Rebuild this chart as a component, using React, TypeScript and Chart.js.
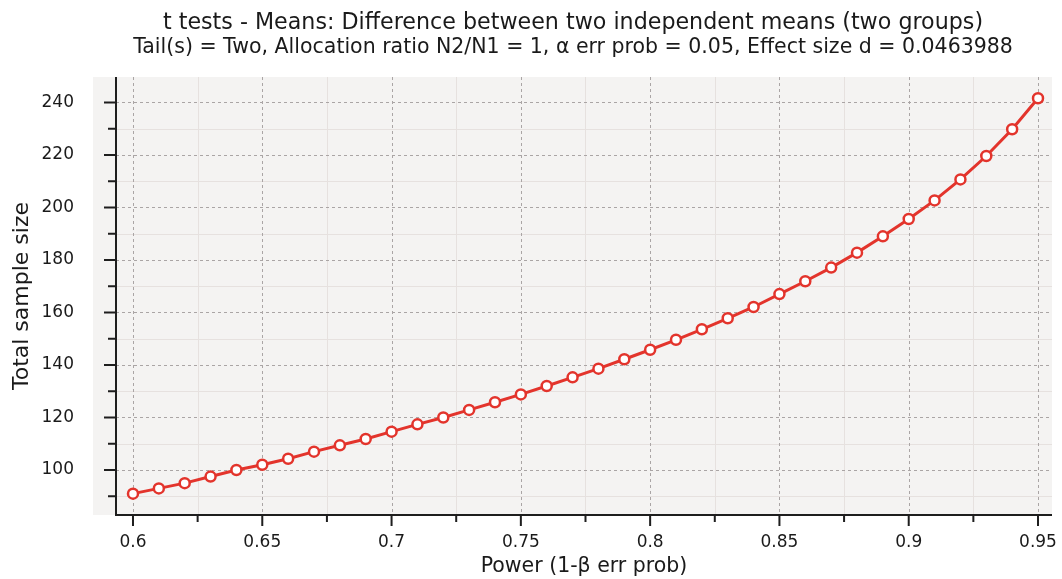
import React, { useEffect, useRef } from "react";
import { Chart, registerables } from "chart.js";

Chart.register(...registerables);

const titleLine1 = "t tests - Means: Difference between two independent means (two groups)";
const titleLine2 = "Tail(s) = Two, Allocation ratio N2/N1 = 1, α err prob = 0.05, Effect size d = 0.0463988";
const xAxisTitle = "Power (1-β err prob)";
const yAxisTitle = "Total sample size";

const powerValues = [
  0.6, 0.61, 0.62, 0.63, 0.64, 0.65, 0.66, 0.67, 0.68, 0.69,
  0.7, 0.71, 0.72, 0.73, 0.74, 0.75, 0.76, 0.77, 0.78, 0.79,
  0.8, 0.81, 0.82, 0.83, 0.84, 0.85, 0.86, 0.87, 0.88, 0.89,
  0.9, 0.91, 0.92, 0.93, 0.94, 0.95,
];
const sampleSizes = [
  91, 93, 95, 97.5, 100, 102, 104.3, 107, 109.4, 111.8,
  114.6, 117.4, 120, 122.9, 125.8, 128.8, 132, 135.3, 138.6, 142.2,
  145.8, 149.6, 153.6, 157.8, 162.1, 167, 171.9, 177.1, 182.8, 189,
  195.6, 202.7, 210.7, 219.6, 229.8, 241.6,
];

const xMajorTicks = [0.6, 0.65, 0.7, 0.75, 0.8, 0.85, 0.9, 0.95];
const xMinorTicks = [0.625, 0.675, 0.725, 0.775, 0.825, 0.875, 0.925];
const yMajorTicks = [100, 120, 140, 160, 180, 200, 220, 240];
const yMinorTicks = [90, 110, 130, 150, 170, 190, 210, 230];
const xLabels = ["0.6", "0.65", "0.7", "0.75", "0.8", "0.85", "0.9", "0.95"];
const yLabels = ["100", "120", "140", "160", "180", "200", "220", "240"];

const FONT = "'DejaVu Sans', sans-serif";

const backgroundGridPlugin = {
  id: "bgGrid",
  beforeDatasetsDraw(chart: any) {
    const { ctx, chartArea, scales } = chart;
    const { left, right, top, bottom } = chartArea;
    const xs = scales.x;
    const ys = scales.y;
    ctx.save();
    ctx.fillStyle = "#f4f3f2";
    ctx.fillRect(left - 23, top, right - left + 23, bottom - top);

    // minor grid
    ctx.strokeStyle = "#e6e1df";
    ctx.lineWidth = 1;
    ctx.setLineDash([]);
    ctx.beginPath();
    xMinorTicks.forEach((v) => {
      const p = Math.round(xs.getPixelForValue(v)) + 0.5;
      ctx.moveTo(p, top);
      ctx.lineTo(p, bottom);
    });
    yMinorTicks.forEach((v) => {
      const p = Math.round(ys.getPixelForValue(v)) + 0.5;
      ctx.moveTo(left, p);
      ctx.lineTo(right, p);
    });
    ctx.stroke();

    // major dashed grid
    ctx.strokeStyle = "#aaa5a5";
    ctx.setLineDash([3, 3]);
    ctx.beginPath();
    xMajorTicks.forEach((v) => {
      const p = Math.round(xs.getPixelForValue(v)) + 0.5;
      ctx.moveTo(p, top);
      ctx.lineTo(p, bottom);
    });
    yMajorTicks.forEach((v) => {
      const p = Math.round(ys.getPixelForValue(v)) + 0.5;
      ctx.moveTo(left, p);
      ctx.lineTo(right, p);
    });
    ctx.stroke();
    ctx.setLineDash([]);

    // axes
    ctx.strokeStyle = "#1e1e1e";
    ctx.lineWidth = 2;
    ctx.beginPath();
    ctx.moveTo(left, top);
    ctx.lineTo(left, bottom);
    ctx.lineTo(right, bottom);
    ctx.stroke();

    // ticks
    ctx.beginPath();
    xMajorTicks.forEach((v) => {
      const p = xs.getPixelForValue(v);
      ctx.moveTo(p, bottom);
      ctx.lineTo(p, bottom + 11);
    });
    xMinorTicks.forEach((v) => {
      const p = xs.getPixelForValue(v);
      ctx.moveTo(p, bottom);
      ctx.lineTo(p, bottom + 7);
    });
    yMajorTicks.forEach((v) => {
      const p = ys.getPixelForValue(v);
      ctx.moveTo(left, p);
      ctx.lineTo(left - 12, p);
    });
    yMinorTicks.forEach((v) => {
      const p = ys.getPixelForValue(v);
      ctx.moveTo(left, p);
      ctx.lineTo(left - 8, p);
    });
    ctx.stroke();

    // y tick labels
    ctx.fillStyle = "#1a1a1a";
    ctx.font = `17px ${FONT}`;
    ctx.textAlign = "right";
    ctx.textBaseline = "middle";
    yMajorTicks.forEach((v, i) => {
      ctx.fillText(yLabels[i], left - 42, ys.getPixelForValue(v));
    });
    ctx.restore();
  },
  afterDraw(chart: any) {
    const { ctx, chartArea } = chart;
    const cx = (chartArea.left + chartArea.right) / 2 - 11;
    ctx.save();
    ctx.fillStyle = "#1a1a1a";
    ctx.textAlign = "center";
    ctx.textBaseline = "alphabetic";
    ctx.font = `22.2px ${FONT}`;
    ctx.fillText(titleLine1, cx, 29);
    ctx.font = `20.5px ${FONT}`;
    ctx.fillText(titleLine2, cx, 53);
    ctx.restore();
  },
};

export default function App() {
  const canvasRef = useRef<HTMLCanvasElement | null>(null);

  useEffect(() => {
    if (!canvasRef.current) return;
    const chart = new Chart(canvasRef.current, {
      type: "line",
      data: {
        datasets: [
          {
            data: powerValues.map((x, i) => ({ x, y: sampleSizes[i] })),
            borderColor: "#e3342c",
            borderWidth: 3,
            pointRadius: 5,
            pointBorderWidth: 2.5,
            pointBackgroundColor: "#ffffff",
            pointBorderColor: "#e3342c",
            tension: 0,
          },
        ],
      },
      options: {
        animation: false,
        responsive: true,
        maintainAspectRatio: false,
        layout: { padding: { left: 0, right: 10, top: 77, bottom: 0 } },
        plugins: {
          legend: { display: false },
          tooltip: { enabled: false },
          title: { display: false },
        },
        scales: {
          x: {
            type: "linear",
            min: 0.59343,
            max: 0.95541,
            grid: { display: false },
            border: { display: false },
            afterBuildTicks: (axis: any) => {
              axis.ticks = xMajorTicks.map((v) => ({ value: v }));
            },
            afterFit: (axis: any) => {
              axis.height = 64;
              axis.paddingLeft = 0;
              axis.paddingRight = 0;
            },
            ticks: {
              padding: 9,
              color: "#1a1a1a",
              font: { family: FONT, size: 17 },
              maxRotation: 0,
              autoSkip: false,
              callback: (_v: any, i: number) => xLabels[i],
            },
            title: {
              display: true,
              text: xAxisTitle,
              color: "#1a1a1a",
              font: { family: FONT, size: 20.5 },
              padding: { top: 0, bottom: 0 },
            },
          },
          y: {
            type: "linear",
            min: 82.86,
            max: 249.7,
            grid: { display: false },
            border: { display: false },
            afterBuildTicks: (axis: any) => {
              axis.ticks = yMajorTicks.map((v) => ({ value: v }));
            },
            afterFit: (axis: any) => {
              axis.width = 116;
              axis.paddingTop = 0;
              axis.paddingBottom = 0;
            },
            ticks: {
              display: false,
            },
            title: {
              display: true,
              text: yAxisTitle,
              color: "#1a1a1a",
              font: { family: FONT, size: 22 },
              padding: { top: 9, bottom: 0 },
            },
          },
        },
      },
      plugins: [backgroundGridPlugin],
    });
    return () => chart.destroy();
  }, []);

  return (
    <div style={{ position: "fixed", left: 0, top: 0, width: 1062, height: 579, background: "#ffffff" }}>
      <canvas ref={canvasRef} />
    </div>
  );
}
